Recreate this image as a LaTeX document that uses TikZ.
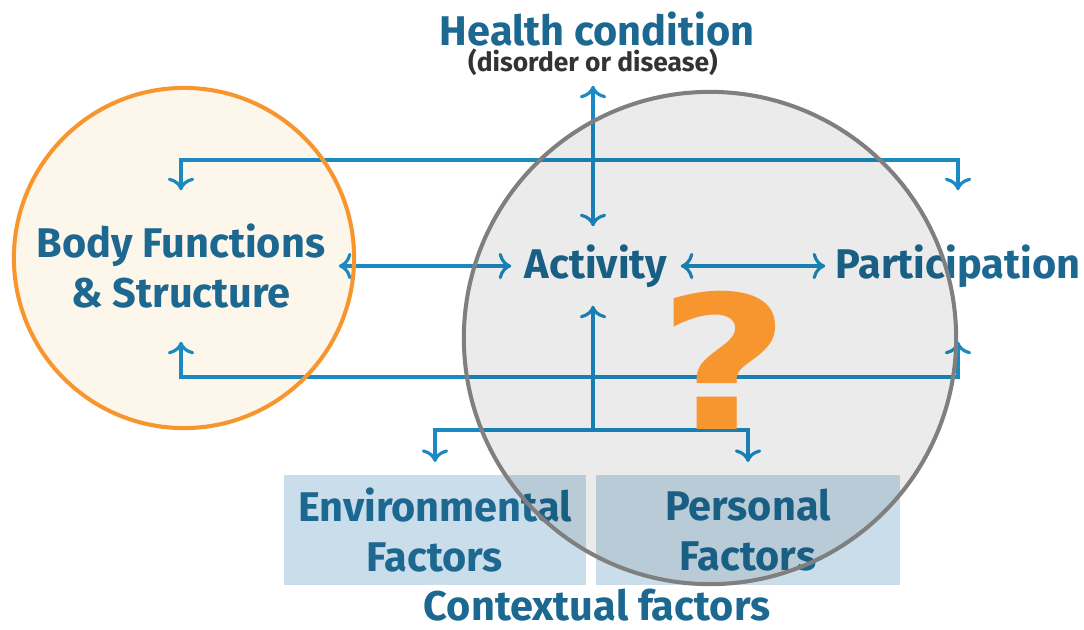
\documentclass[tikz,border=0pt]{standalone}
\usepackage{fontspec}
\setmainfont{Fira Sans}
\newfontfamily\qfont{DejaVu Sans}
\usetikzlibrary{arrows.meta}

\definecolor{icftext}{HTML}{1C6890}
\definecolor{icfline}{HTML}{1C8AC2}
\definecolor{icfbox}{HTML}{C9DDEA}
\definecolor{ringorange}{HTML}{F7962E}
\definecolor{ringcream}{HTML}{FDF6EA}
\definecolor{ringgray}{HTML}{7F7F7F}

\begin{document}
\begin{tikzpicture}[x=0.01cm, y=-0.01cm,
	part/.style={text=icftext, font=\fontsize{11.8}{14}\selectfont\bfseries, align=center, inner sep=0pt},
	factor/.style={part, fill=icfbox, minimum height=1.10cm, outer ysep=0.13cm},
	link/.style={draw=icfline, line width=0.9pt, arrows={-Stealth[length=3.2pt, width=3.9pt, inset=0.6pt]}}]

	\useasboundingbox (0,0) rectangle (1084,630);

	% body ring, background
	\fill[ringcream] (184,258) circle (1.70cm);

	\node[part] (health) at (597, 29) {Health condition};
	\node[part, text=black!80, font=\fontsize{7.5}{9}\selectfont\bfseries, minimum height=0.46cm] (disorder) at (593, 62) {(disorder or disease)};

	\node[part, minimum width=3.14cm, minimum height=1.50cm] (body) at (181, 266) {Body Functions\\\& Structure};
	\node[part, minimum width=1.68cm, minimum height=0.78cm] (activity) at (596, 266) {Activity};
	\node[part, minimum width=2.64cm, minimum height=1.50cm] (particip) at (958, 266) {Participation};

	\node[factor, minimum width=3.02cm] (envbox) at (435, 530) {Environmental\\Factors};
	\node[factor, minimum width=3.04cm] (persbox) at (748, 530) {Personal\\Factors};
	\node[part] (context) at (597, 605) {Contextual factors};

	\coordinate (topJ) at (593, 160);
	\coordinate (botJ) at (593, 377);
	\coordinate (ctxJ) at (593, 430);

	\draw[link, <->] (disorder.south) -- (disorder.south |- activity.north);
	\draw[link, <->] (body.north) |- (topJ) -| (particip.north);
	\draw[link, <->] (body.south) |- (botJ) -| (particip.south);
	\draw[link, <->] (body.east) -- (activity.west);
	\draw[link, <->] (activity.east) -- (particip.west);
	\draw[link, ->] (ctxJ) -- (ctxJ |- activity.south);
	\draw[link, <->] (envbox.north) |- (ctxJ) -| (persbox.north);

	% rings on top
	\draw[ringorange, line width=1.15pt] (184,258) circle (1.70cm);
	\draw[ringgray, line width=1.15pt, fill=black, fill opacity=0.08] (710,338) circle (2.46cm);

	\node[text=ringorange, inner sep=0pt, font=\qfont\fontsize{53}{53}\selectfont\bfseries] (qmark) at (724, 360) {\scalebox{1.22}[1]{?}};

\end{tikzpicture}
\end{document}
